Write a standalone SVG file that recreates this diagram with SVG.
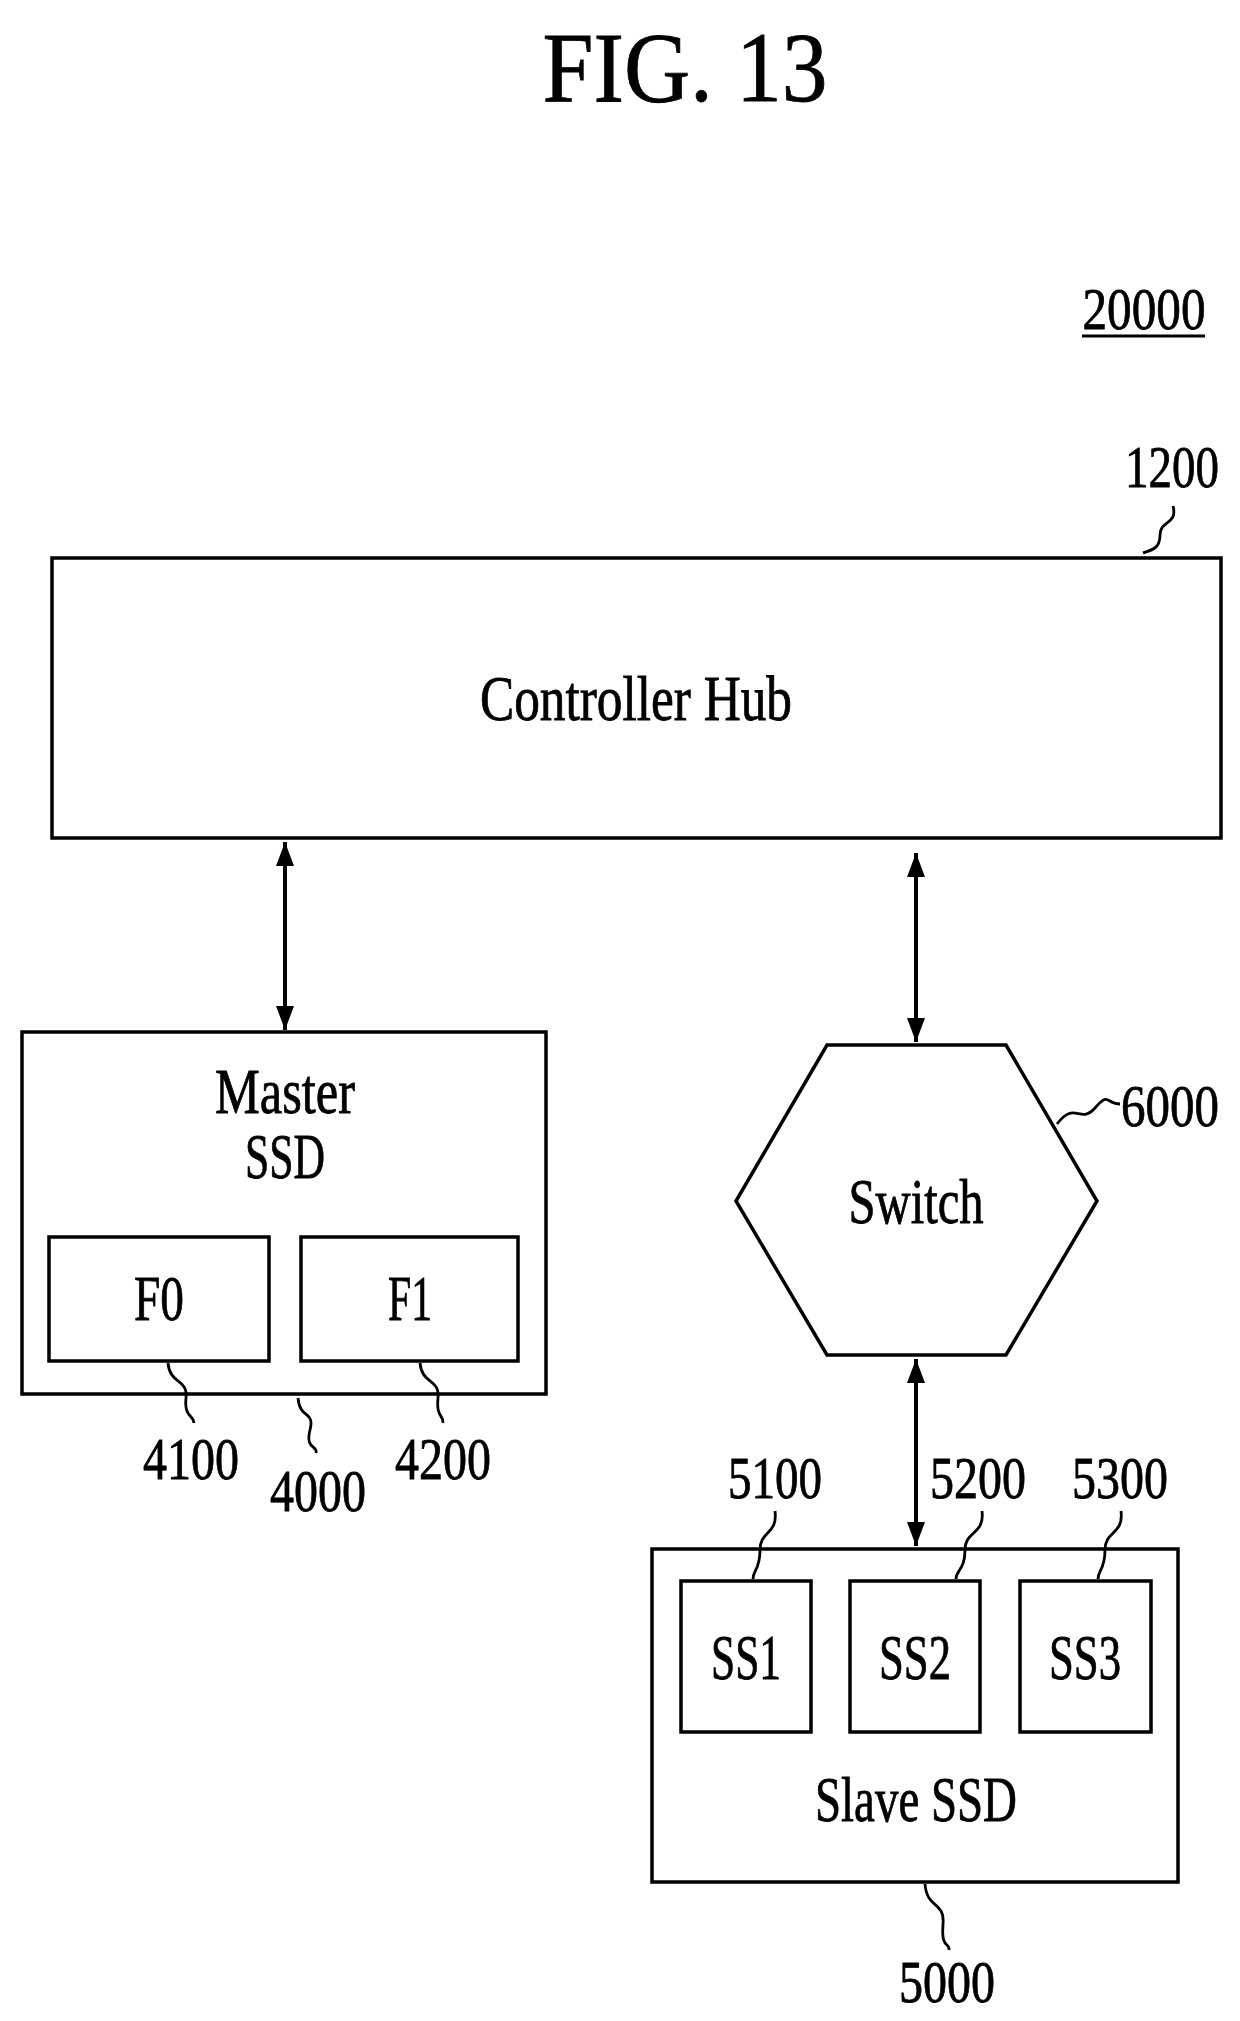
<svg xmlns="http://www.w3.org/2000/svg" width="1240" height="2021" viewBox="0 0 1240 2021">
<style>
text{font-family:"Liberation Serif","DejaVu Serif",serif;fill:#000;text-anchor:middle;stroke:#000;stroke-width:0.8}
.n{font-size:64px}
.l{font-size:60px}
.b{fill:none;stroke:#000;stroke-width:3.5}
.w{fill:none;stroke:#000;stroke-width:2.8}
</style>
<defs>
<marker id="h" viewBox="0 0 24 18" refX="24" refY="9" markerWidth="24" markerHeight="18" markerUnits="userSpaceOnUse" orient="auto-start-reverse"><path d="M0,0L24,9L0,18z" fill="#000"/></marker>
</defs>
<rect width="1240" height="2021" fill="#fff"/>
<text x="685" y="101" font-size="100" textLength="285" lengthAdjust="spacingAndGlyphs">FIG. 13</text>
<g id="label-20000"><text class="l" x="1144" y="329" textLength="123" lengthAdjust="spacingAndGlyphs">20000</text><line x1="1082" y1="336" x2="1205" y2="336" stroke="#000" stroke-width="3"/></g>
<g id="controller-hub">
<rect class="b" x="52" y="558" width="1169" height="280"/>
<text class="n" x="636" y="720" textLength="312" lengthAdjust="spacingAndGlyphs">Controller Hub</text>
<text class="l" x="1172" y="487" textLength="94" lengthAdjust="spacingAndGlyphs">1200</text>
<path class="w" d="M1173,506C1178,525 1160,520 1160,535S1150,550 1143,553"/>
</g>
<g id="master-ssd">
<rect class="b" x="22" y="1032" width="524" height="362"/>
<text class="n" x="285" y="1113" textLength="140" lengthAdjust="spacingAndGlyphs">Master</text>
<text class="n" x="285" y="1178" textLength="80" lengthAdjust="spacingAndGlyphs">SSD</text>
<text class="l" x="318" y="1511" textLength="96" lengthAdjust="spacingAndGlyphs">4000</text>
<path class="w" d="M298,1398C300,1420 315,1410 310,1430S318,1445 316,1453"/>
</g>
<g id="f0">
<rect class="b" x="49" y="1237" width="220" height="124"/>
<text class="n" x="159" y="1320" textLength="50" lengthAdjust="spacingAndGlyphs">F0</text>
<text class="l" x="191" y="1479" textLength="96" lengthAdjust="spacingAndGlyphs">4100</text>
<path class="w" d="M168,1363C170,1385 188,1378 186,1398S194,1415 194,1423"/>
</g>
<g id="f1">
<rect class="b" x="301" y="1237" width="217" height="124"/>
<text class="n" x="410" y="1320" textLength="44" lengthAdjust="spacingAndGlyphs">F1</text>
<text class="l" x="443" y="1479" textLength="96" lengthAdjust="spacingAndGlyphs">4200</text>
<path class="w" d="M420,1363C422,1385 440,1378 438,1398S444,1415 443,1423"/>
</g>
<g id="switch">
<polygon class="b" points="827,1045 1006,1045 1097,1201 1006,1355 827,1355 736,1201"/>
<text class="n" x="916" y="1223" textLength="135" lengthAdjust="spacingAndGlyphs">Switch</text>
<text class="l" x="1170" y="1126" textLength="98" lengthAdjust="spacingAndGlyphs">6000</text>
<path class="w" d="M1057,1124C1075,1100 1080,1125 1095,1108S1105,1104 1120,1104"/>
</g>
<g id="slave-ssd">
<rect class="b" x="652" y="1549" width="526" height="333"/>
<text class="n" x="916" y="1821" textLength="202" lengthAdjust="spacingAndGlyphs">Slave SSD</text>
<text class="l" x="947" y="2002" textLength="96" lengthAdjust="spacingAndGlyphs">5000</text>
<path class="w" d="M925,1884C927,1910 945,1900 943,1925S950,1942 949,1950"/>
</g>
<g id="ss1">
<rect class="b" x="681" y="1581" width="130" height="151"/>
<text class="n" x="746" y="1679" textLength="70" lengthAdjust="spacingAndGlyphs">SS1</text>
<text class="l" x="775" y="1498" textLength="94" lengthAdjust="spacingAndGlyphs">5100</text>
<path class="w" d="M775,1511C778,1535 760,1530 760,1550S753,1570 753,1579"/>
</g>
<g id="ss2">
<rect class="b" x="850" y="1581" width="130" height="151"/>
<text class="n" x="915" y="1679" textLength="72" lengthAdjust="spacingAndGlyphs">SS2</text>
<text class="l" x="978" y="1498" textLength="96" lengthAdjust="spacingAndGlyphs">5200</text>
<path class="w" d="M982,1511C985,1535 965,1530 965,1550S956,1570 956,1579"/>
</g>
<g id="ss3">
<rect class="b" x="1020" y="1581" width="131" height="151"/>
<text class="n" x="1085" y="1679" textLength="72" lengthAdjust="spacingAndGlyphs">SS3</text>
<text class="l" x="1120" y="1498" textLength="96" lengthAdjust="spacingAndGlyphs">5300</text>
<path class="w" d="M1121,1511C1124,1535 1105,1530 1105,1550S1098,1570 1098,1579"/>
</g>
<g id="connectors" fill="none" stroke="#000" stroke-width="4">
<line x1="285" y1="842" x2="285" y2="1030" marker-start="url(#h)" marker-end="url(#h)"/>
<line x1="916" y1="853" x2="916" y2="1042" marker-start="url(#h)" marker-end="url(#h)"/>
<line x1="916" y1="1359" x2="916" y2="1546" marker-start="url(#h)" marker-end="url(#h)"/>
</g>
</svg>
